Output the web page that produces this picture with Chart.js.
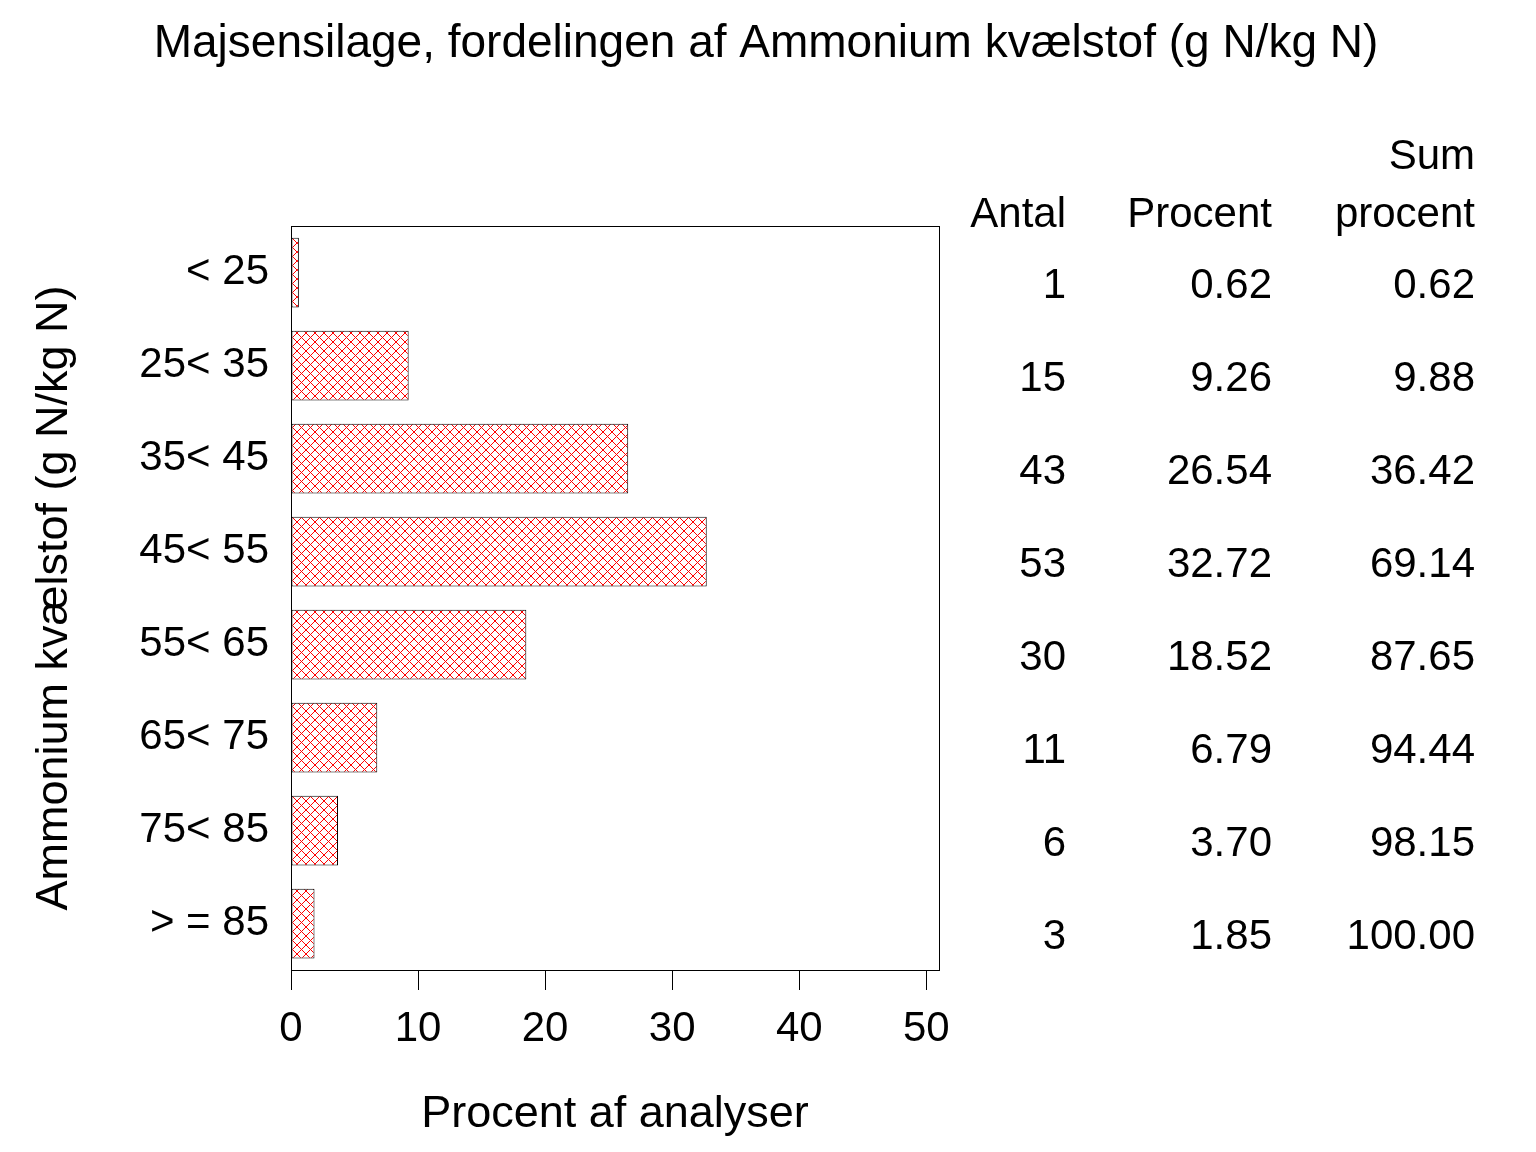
<!DOCTYPE html>
<html>
<head>
<meta charset="utf-8">
<title>Majsensilage, Ammonium kvælstof</title>
<script src="https://cdn.jsdelivr.net/npm/chart.js@4/dist/chart.umd.min.js"></script>
<style>
  html, body { margin: 0; padding: 0; background: #fff; }
  #wrap { width: 1536px; height: 1152px; }
</style>
</head>
<body>
<div id="wrap"><canvas id="myBarChart"></canvas></div>
<script>
// data
var klasser = ['< 25', '25< 35', '35< 45', '45< 55', '55< 65', '65< 75', '75< 85', '> = 85'];
var antal = [1, 15, 43, 53, 30, 11, 6, 3];
var procent = [0.62, 9.26, 26.54, 32.72, 18.52, 6.79, 3.70, 1.85];
var sumProcent = [0.62, 9.88, 36.42, 69.14, 87.65, 94.44, 98.15, 100.00];
var xTicks = [0, 10, 20, 30, 40, 50];

var FONT = "'Liberation Sans', Arial, Helvetica, sans-serif";
var TITLE = 'Majsensilage, fordelingen af Ammonium kvælstof (g N/kg N)';

// red cross hatch fill
function crossHatch() {
  var c = document.createElement('canvas');
  c.width = 9; c.height = 9;
  var g = c.getContext('2d');
  g.fillStyle = '#ffffff';
  g.fillRect(0, 0, 9, 9);
  g.fillStyle = '#ff0000';
  for (var i = 0; i < 9; i++) {
    g.fillRect(i, i, 1, 1);
    g.fillRect(i, 8 - i, 1, 1);
  }
  return g.createPattern(c, 'repeat');
}

// white page, title over the whole width, frame round the plot, table on the right
var extras = {
  id: 'extras',
  beforeDraw: function (chart) {
    var ctx = chart.ctx;
    ctx.save();
    ctx.fillStyle = '#fff';
    ctx.fillRect(0, 0, chart.width, chart.height);
    ctx.restore();
  },
  afterDraw: function (chart) {
    var ctx = chart.ctx, a = chart.chartArea, y = chart.scales.y;
    ctx.save();
    ctx.strokeStyle = '#000';
    ctx.lineWidth = 1;
    ctx.strokeRect(Math.round(a.left) + 0.5, Math.round(a.top) + 0.5,
                   Math.round(a.right - a.left), Math.round(a.bottom - a.top));

    ctx.fillStyle = '#000';
    ctx.textBaseline = 'alphabetic';
    ctx.textAlign = 'center';
    ctx.font = '46px ' + FONT;
    ctx.fillText(TITLE, 766, 57);

    ctx.font = '42px ' + FONT;
    ctx.textAlign = 'right';
    var cols = [1066, 1272, 1475];
    ctx.fillText('Sum', cols[2], 169);
    ctx.fillText('Antal', cols[0], 227);
    ctx.fillText('Procent', cols[1], 227);
    ctx.fillText('procent', cols[2], 227);

    ctx.textBaseline = 'middle';
    for (var i = 0; i < klasser.length; i++) {
      var py = y.getPixelForValue(i) + 14;
      ctx.fillText(String(antal[i]), cols[0], py);
      ctx.fillText(procent[i].toFixed(2), cols[1], py);
      ctx.fillText(sumProcent[i].toFixed(2), cols[2], py);
    }
    ctx.restore();
  }
};

var ctxBar = document.getElementById('myBarChart').getContext('2d');
var myChart = new Chart(ctxBar, {
  type: 'bar',
  data: {
    labels: klasser,
    datasets: [{
      label: 'Procent af analyser',
      data: procent,
      backgroundColor: crossHatch(),
      borderColor: '#000',
      borderWidth: 1,
      borderSkipped: false,
      barPercentage: 0.75,
      categoryPercentage: 1
    }]
  },
  options: {
    indexAxis: 'y',
    responsive: true,
    maintainAspectRatio: false,
    animation: false,
    layout: { padding: { left: 0, right: 597, top: 226, bottom: 0 } },
    plugins: {
      legend: { display: false },
      tooltip: { enabled: false },
      title: { display: false }
    },
    scales: {
      x: {
        type: 'linear',
        min: 0,
        max: 51,
        afterBuildTicks: function (scale) {
          scale.ticks = xTicks.map(function (v) { return { value: v }; });
        },
        afterFit: function (scale) { scale.height = 182; },
        grid: {
          display: true,
          drawOnChartArea: false,
          drawTicks: true,
          tickLength: 20,
          tickColor: '#000',
          tickWidth: 1
        },
        border: { display: true, color: '#000', width: 1 },
        ticks: {
          color: '#000',
          padding: 14,
          maxRotation: 0,
          font: { family: FONT, size: 42 }
        },
        title: {
          display: true,
          text: 'Procent af analyser',
          color: '#000',
          font: { family: FONT, size: 45 },
          padding: { top: 0, bottom: 10 }
        }
      },
      y: {
        type: 'category',
        offset: true,
        afterFit: function (scale) { scale.width = 291; },
        grid: { display: false },
        border: { display: true, color: '#000', width: 1 },
        ticks: {
          color: '#000',
          padding: 14,
          font: { family: FONT, size: 42 }
        },
        title: {
          display: true,
          text: 'Ammonium kvælstof (g N/kg N)',
          color: '#000',
          font: { family: FONT, size: 45 },
          padding: { top: 28, bottom: 0 }
        }
      }
    }
  },
  plugins: [extras]
});
</script>
</body>
</html>
